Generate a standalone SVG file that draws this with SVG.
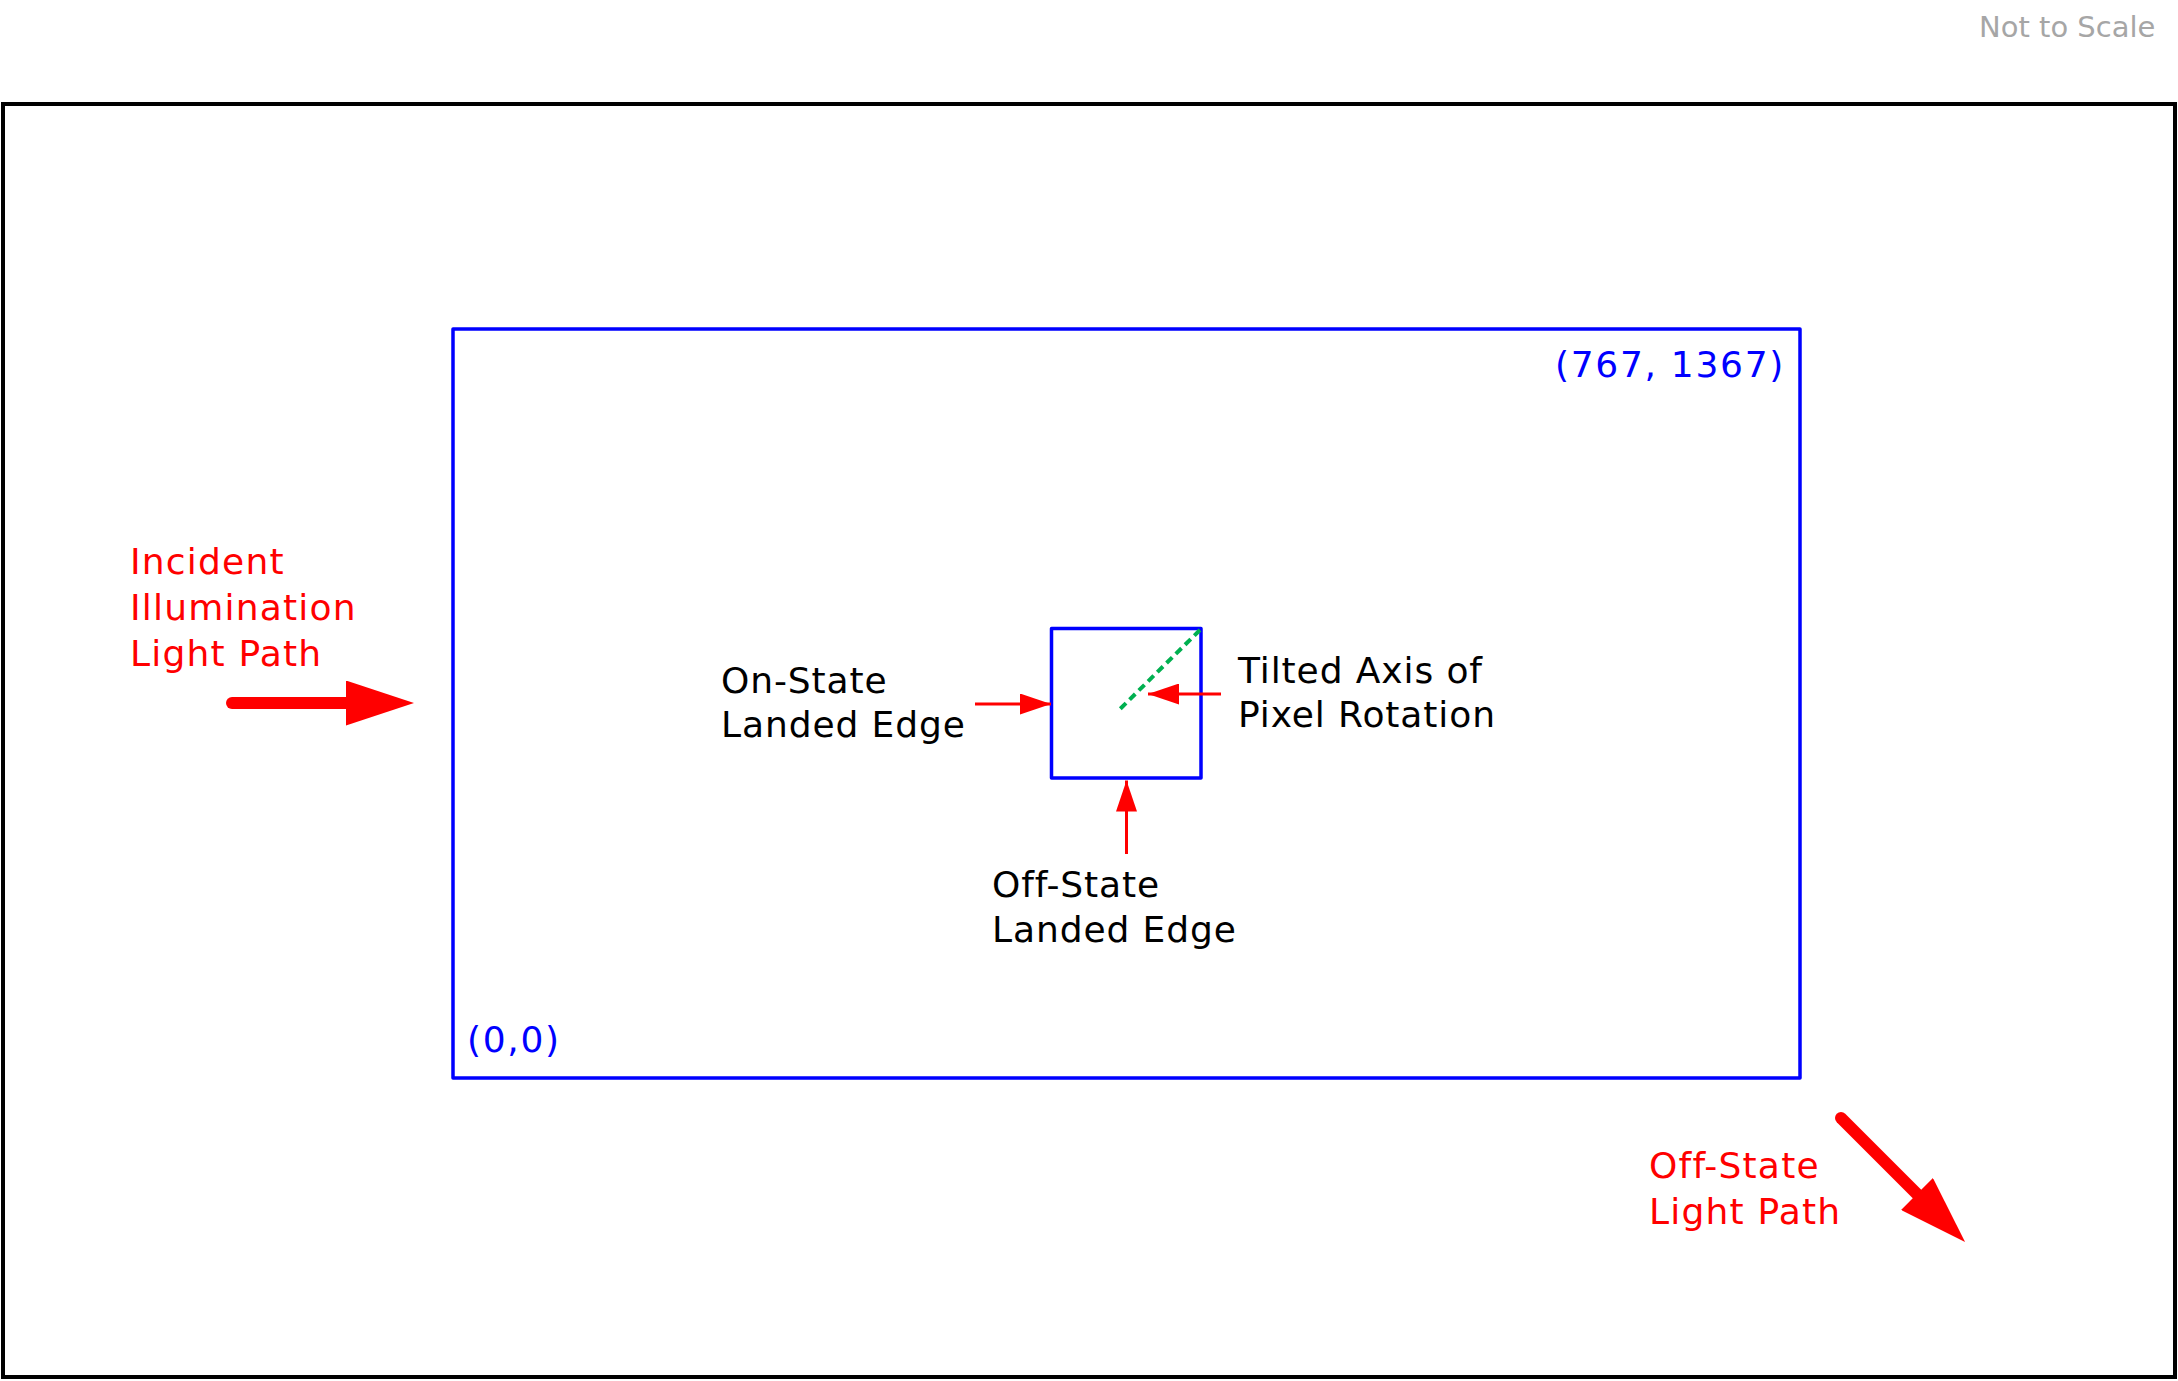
<svg xmlns="http://www.w3.org/2000/svg" width="2178" height="1381" viewBox="0 0 2178 1381">
  <style>
    text { font-family: "DejaVu Sans", Verdana, sans-serif; font-size: 36px; letter-spacing: 1.2px; }
    .blk { fill: #000000; letter-spacing: 0.9px; }
    .red { fill: #ff0000; }
    .blu { fill: #0000ff; letter-spacing: 1.7px; }
    .note { fill: #a6a6a6; font-size: 29px; letter-spacing: 0; }
    .frame { fill: none; stroke: #000000; stroke-width: 4; }
    .bbox { fill: none; stroke: #0000ff; stroke-width: 3.5; stroke-linejoin: round; }
    .thin { fill: none; stroke: #ff0000; stroke-width: 3; }
    .thick { fill: none; stroke: #ff0000; stroke-width: 12; stroke-linecap: round; }
    .axis { fill: none; stroke: #00b050; stroke-width: 4; stroke-dasharray: 8 5; }
  </style>
  <defs>
    <marker id="smallHead" markerUnits="userSpaceOnUse" markerWidth="31" markerHeight="21" refX="31" refY="10.5" orient="auto">
      <path d="M0,0 L31,10.5 L0,21 z" fill="#ff0000"/>
    </marker>
    <marker id="bigHead" markerUnits="userSpaceOnUse" markerWidth="68" markerHeight="45" refX="0" refY="22.5" orient="auto">
      <path d="M0,0 L68,22.5 L0,45 z" fill="#ff0000"/>
    </marker>
  </defs>
  <rect width="2178" height="1381" fill="#ffffff"/>

  <g id="note">
    <text class="note" x="1979" y="37">Not to Scale</text>
  </g>

  <g id="frame">
    <rect class="frame" x="3" y="104" width="2172" height="1273"/>
  </g>

  <g id="array">
    <rect class="bbox" x="453" y="329" width="1347" height="749"/>
    <text class="blu" x="1555" y="377">(767, 1367)</text>
    <text class="blu" x="467" y="1052">(0,0)</text>
  </g>

  <g id="pixel">
    <rect class="bbox" x="1051.5" y="628.5" width="149.5" height="149.5"/>
    <line class="axis" x1="1200" y1="630" x2="1117" y2="712"/>
  </g>

  <g id="incident-label">
    <text class="red" x="130" y="574">Incident</text>
    <text class="red" x="130" y="620">Illumination</text>
    <text class="red" x="130" y="666">Light Path</text>
  </g>

  <g id="offstate-path-label">
    <text class="red" x="1649" y="1178">Off-State</text>
    <text class="red" x="1649" y="1224">Light Path</text>
  </g>

  <g id="onstate-label">
    <text class="blk" x="721" y="693">On-State</text>
    <text class="blk" x="721" y="737">Landed Edge</text>
  </g>

  <g id="tilted-label">
    <text class="blk" x="1238" y="683">Tilted Axis of</text>
    <text class="blk" x="1238" y="727">Pixel Rotation</text>
  </g>

  <g id="offstate-edge-label">
    <text class="blk" x="992" y="897">Off-State</text>
    <text class="blk" x="992" y="942">Landed Edge</text>
  </g>

  <g id="connectors">
    <line class="thick" x1="232" y1="703" x2="346" y2="703" marker-end="url(#bigHead)"/>
    <line class="thick" x1="1841" y1="1118" x2="1917" y2="1194" marker-end="url(#bigHead)"/>
    <line class="thin" x1="975" y1="704" x2="1051" y2="704" marker-end="url(#smallHead)"/>
    <line class="thin" x1="1221" y1="694" x2="1148" y2="694" marker-end="url(#smallHead)"/>
    <line class="thin" x1="1126.5" y1="854" x2="1126.5" y2="780.5" marker-end="url(#smallHead)"/>
  </g>
</svg>
